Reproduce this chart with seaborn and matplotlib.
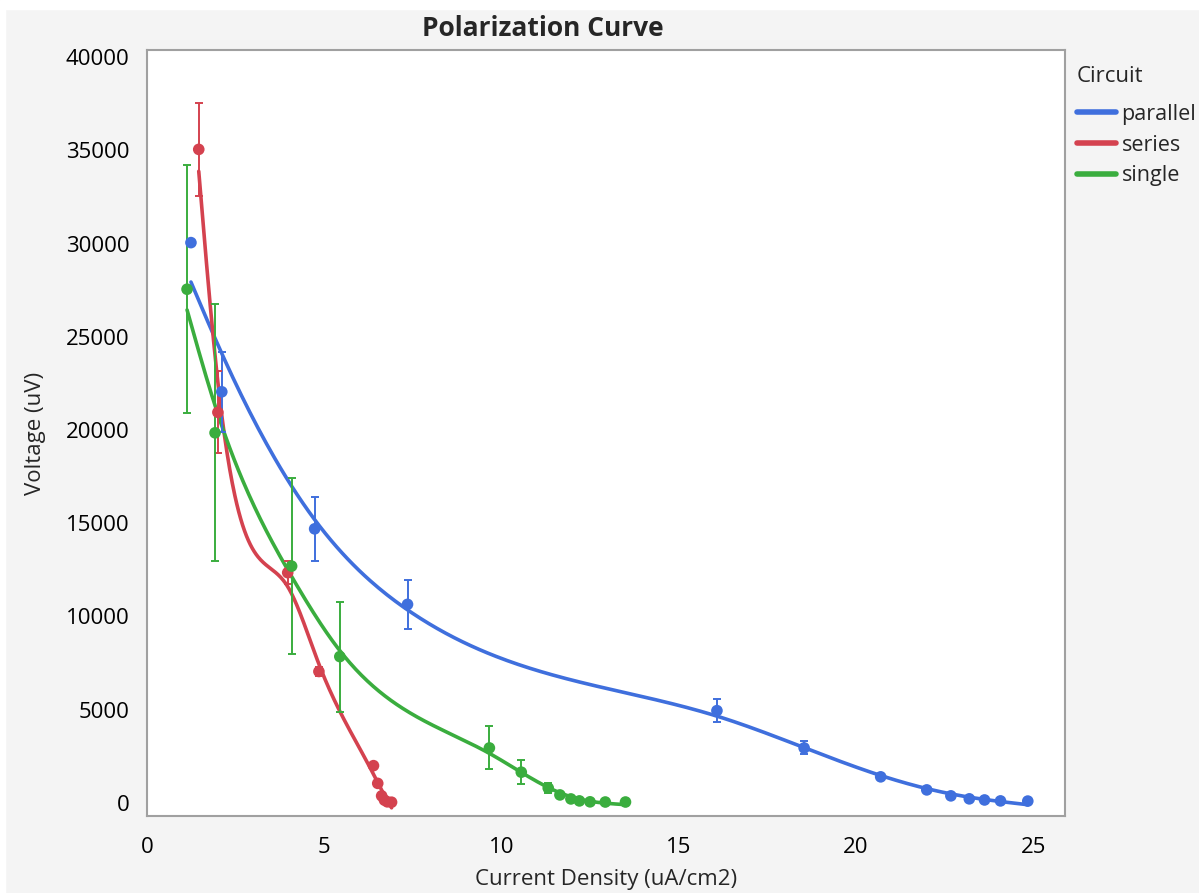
import numpy as np
import pandas as pd
import matplotlib
matplotlib.use("Agg")
import matplotlib.pyplot as plt
from matplotlib.ticker import MultipleLocator
from matplotlib.lines import Line2D
from matplotlib.patches import Rectangle
import seaborn as sns

# data
circuits = ["parallel", "series", "single"]

parallel_x = [1.24, 2.11, 4.73, 7.35, 16.08, 18.54, 20.7, 22.0, 22.68, 23.2, 23.63, 24.08, 24.85]
parallel_y = [30050, 22050, 14700, 10650, 4950, 2950, 1400, 700, 380, 220, 160, 110, 100]
parallel_err = [0, 2150, 1700, 1300, 600, 350, 0, 0, 0, 0, 0, 0, 0]

series_x = [1.46, 2.0, 3.97, 4.85, 6.39, 6.51, 6.62, 6.7, 6.78, 6.9]
series_y = [35050, 20950, 12350, 7050, 2000, 1050, 380, 150, 60, 40]
series_err = [2500, 2200, 600, 250, 0, 0, 0, 0, 0, 0]

single_x = [1.13, 1.92, 4.08, 5.44, 9.66, 10.56, 11.32, 11.65, 11.96, 12.2, 12.5, 12.93, 13.5]
single_y = [27550, 19850, 12700, 7850, 2950, 1650, 800, 430, 215, 110, 60, 50, 50]
single_err = [6650, 6900, 4700, 2950, 1150, 650, 250, 0, 0, 0, 0, 0, 0]

colors = {"parallel": "#3f6fdd", "series": "#d4424f", "single": "#3aad3e"}
# smoothing spline stiffness per circuit
smooth_lambda = {"parallel": 3.0, "series": 0.03, "single": 0.4}


def smoothing_spline(x, y, lam, n=300):
    # natural cubic smoothing spline (Reinsch form)
    x = np.asarray(x, float)
    y = np.asarray(y, float)
    h = np.diff(x)
    m = len(x)
    Q = np.zeros((m, m - 2))
    R = np.zeros((m - 2, m - 2))
    for j in range(1, m - 1):
        Q[j - 1, j - 1] = 1 / h[j - 1]
        Q[j, j - 1] = -1 / h[j - 1] - 1 / h[j]
        Q[j + 1, j - 1] = 1 / h[j]
        R[j - 1, j - 1] = (h[j - 1] + h[j]) / 3
        if j < m - 2:
            R[j - 1, j] = R[j, j - 1] = h[j] / 6
    K = Q @ np.linalg.solve(R, Q.T)
    g = np.linalg.solve(np.eye(m) + lam * K, y)
    gam = np.zeros(m)
    gam[1:-1] = np.linalg.solve(R, Q.T @ g)
    t = np.linspace(x[0], x[-1], n)
    i = np.clip(np.searchsorted(x, t) - 1, 0, m - 2)
    a = t - x[i]
    b = x[i + 1] - t
    f = (a * g[i + 1] + b * g[i]) / h[i] - a * b / 6 * (
        (1 + a / h[i]) * gam[i + 1] + (1 + b / h[i]) * gam[i])
    return t, f


frames = []
fits = []
for name, xs, ys, es in [("parallel", parallel_x, parallel_y, parallel_err),
                         ("series", series_x, series_y, series_err),
                         ("single", single_x, single_y, single_err)]:
    frames.append(pd.DataFrame({"x": xs, "y": ys, "err": es, "Circuit": name}))
    t, f = smoothing_spline(xs, ys, smooth_lambda[name])
    fits.append(pd.DataFrame({"x": t, "y": f, "Circuit": name}))
df = pd.concat(frames, ignore_index=True)
fit_df = pd.concat(fits, ignore_index=True)

sns.set_style("white")
plt.rcParams["font.family"] = ["Open Sans", "DejaVu Sans"]

fig = plt.figure(figsize=(11.99, 8.93), dpi=100, facecolor="#f4f4f4")
fig.patches.append(Rectangle((0, 1 - 9 / 893), 1, 9 / 893, transform=fig.transFigure,
                             color="white", zorder=0))
fig.patches.append(Rectangle((0, 0), 5 / 1199, 1, transform=fig.transFigure,
                             color="white", zorder=0))
ax = fig.add_axes([147 / 1199, 1 - 816 / 893, (1065 - 147) / 1199, (816 - 50) / 893])
ax.set_facecolor("white")

sns.lineplot(data=fit_df, x="x", y="y", hue="Circuit", palette=colors, lw=2.6,
             sort=False, estimator=None, legend=False, ax=ax)

for name in circuits:
    e = df[(df["Circuit"] == name) & (df["err"] > 0)]
    ax.errorbar(e["x"], e["y"], yerr=e["err"], fmt="none", ecolor=colors[name],
                elinewidth=1.4, capsize=3, capthick=1.4, zorder=3)

sns.scatterplot(data=df, x="x", y="y", hue="Circuit", palette=colors, s=70,
                edgecolor="none", legend=False, ax=ax, zorder=4)

ax.set_xlim(0, 25.9)
ax.set_ylim(-700, 40380)
ax.xaxis.set_major_locator(MultipleLocator(5))
ax.xaxis.set_minor_locator(MultipleLocator(2.5))
ax.yaxis.set_major_locator(MultipleLocator(5000))
ax.yaxis.set_minor_locator(MultipleLocator(2500))
ax.tick_params(which="both", direction="out", colors="#a0a0a0", labelcolor="black",
               labelsize=16)
ax.tick_params(which="major", length=9, width=1.5)
ax.tick_params(which="minor", length=5, width=1.5)
ax.tick_params(axis="x", pad=6)
for s in ax.spines.values():
    s.set_color("#a0a0a0")
    s.set_linewidth(1.5)

ax.set_xlabel("Current Density (uA/cm2)", fontsize=16, labelpad=8)
ax.set_ylabel("Voltage (uV)", fontsize=16, labelpad=14)
fig.text(543 / 1199, 1 - 29 / 893, "Polarization Curve", fontsize=19, fontweight="bold",
         ha="center", va="center")

# legend: title as its own text so the gap below it matches
fig.text(1077 / 1199, 1 - 77 / 893, "Circuit", fontsize=16, ha="left", va="center")
handles = [Line2D([0], [0], color=colors[n], lw=4) for n in circuits]
leg = fig.legend(handles, circuits, loc="upper left",
                 bbox_to_anchor=(1077 / 1199, 1 - 104 / 893), frameon=False, fontsize=15.5,
                 handlelength=1.8, handletextpad=0.27, labelspacing=0.45,
                 borderaxespad=0, borderpad=0)

fig.savefig("out.png", dpi=100, facecolor=fig.get_facecolor())
